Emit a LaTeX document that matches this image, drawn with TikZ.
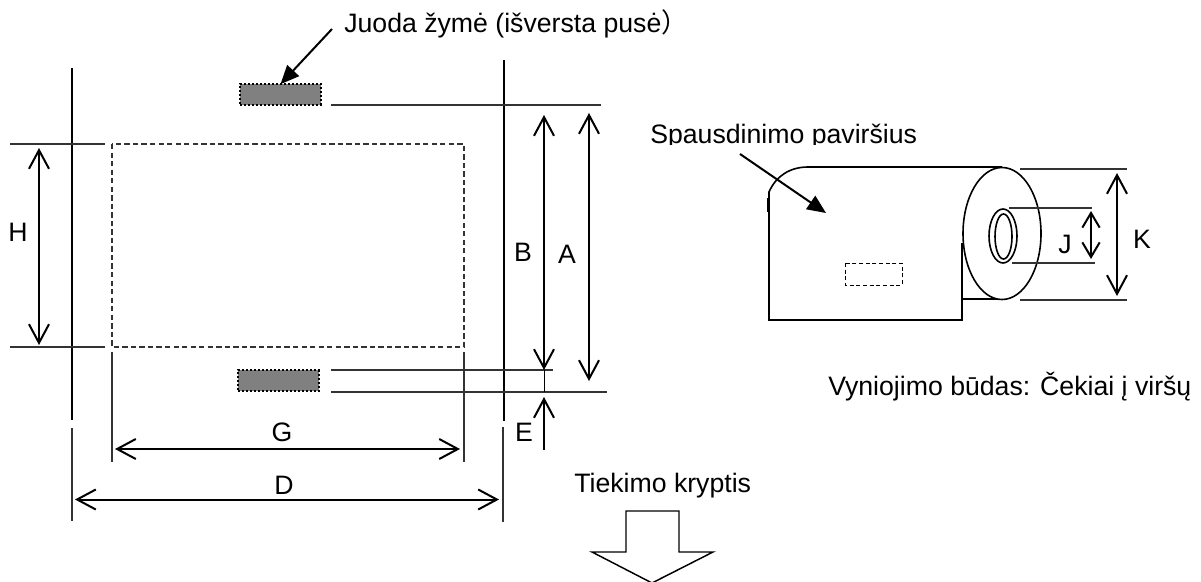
\documentclass[tikz,border=0pt]{standalone}
\usepackage{fontspec}
\setmainfont{Liberation Sans}
\newfontfamily\cjkf{Noto Sans CJK SC}
\usetikzlibrary{arrows.meta,calc,shapes.geometric}
\tikzset{
  x=0.75pt,y=-0.75pt,
  thinln/.style={line width=0.9pt,black!80},
  vln/.style={line width=1.1pt,black},
  dim/.style={line width=1.5pt,{Straight Barb[length=14pt,width=15pt,line width=1.5pt]}-{Straight Barb[length=14pt,width=15pt,line width=1.5pt]}},
  dimone/.style={line width=1.5pt,-{Straight Barb[length=14pt,width=15pt,line width=1.5pt]}},
  smalldim/.style={line width=1.5pt,{Straight Barb[length=11pt,width=13pt,line width=1.5pt]}-{Straight Barb[length=11pt,width=13pt,line width=1.5pt]}},
  leader/.style={line width=1.5pt,-{Triangle[length=14pt,width=12pt]}},
  lbl/.style={inner sep=0pt,font=\fontsize{20pt}{24pt}\selectfont},
  blackmark/.style={draw=black,dash pattern=on 1.5pt off 1.5pt,line width=1.3pt,fill=black!50,minimum width=60.5pt,minimum height=15.5pt,inner sep=0pt,outer sep=0pt},
  dashone/.style={line width=0.9pt,dash pattern=on 4pt off 2.4pt,black!80},
  rolln/.style={line width=1.2pt,black},
  ell/.style={ellipse,draw=black,line width=1.2pt,inner sep=0pt,outer sep=0pt,fill=white}
}
\begin{document}
\begin{tikzpicture}
\useasboundingbox (0,0) rectangle (1201,581);
% left drawing verticals
\coordinate (v1a) at (72,68); \coordinate (v1b) at (72,420);
\coordinate (v1c) at (72,428); \coordinate (v1d) at (72,521);
\coordinate (v2a) at (504,60); \coordinate (v2b) at (504,421);
\coordinate (v2c) at (503,427); \coordinate (v2d) at (503,522);
\draw[vln] (v1a) -- (v1b); \draw[thinln] (v1c) -- (v1d);
\draw[vln] (v2a) -- (v2b); \draw[thinln] (v2c) -- (v2d);
% dashed sheet
\coordinate (sheetA) at (112,144); \coordinate (sheetB) at (464,347);
\draw[dashone] (sheetA) rectangle (sheetB);
% H
\coordinate (h1a) at (10,144); \coordinate (h1b) at (105,144);
\coordinate (h2a) at (10,347); \coordinate (h2b) at (105,347);
\draw[thinln] (h1a) -- (h1b); \draw[thinln] (h2a) -- (h2b);
\coordinate (Ht) at (39,148); \coordinate (Hb) at (39,345);
\draw[dim] (Ht) -- (Hb);
\node[lbl] (H) at (18,232) {H};
% marks
\node[blackmark] (m1) at (280.5,94.5) {};
\node[blackmark] (m2) at (278.5,380.5) {};
\coordinate (ls) at (331,105); \coordinate (le) at (601,105);
\draw[thinln] (ls) -- (le);
\coordinate (l2s) at (331,370); \coordinate (l2e) at (553,370);
\coordinate (l3s) at (331,392); \coordinate (l3e) at (607,392);
\draw[thinln] (l2s) -- (l2e); \draw[thinln] (l3s) -- (l3e);
% B, A, E
\coordinate (Bt) at (544,115); \coordinate (Bb) at (544,370);
\coordinate (At) at (589,113); \coordinate (Ab) at (589,381);
\draw[dim] (Bt) -- (Bb); \draw[dim] (At) -- (Ab);
\node[lbl] (B) at (523,252) {B};
\node[lbl] (A) at (567,254) {A};
\draw[line width=0.6pt] (Bb) -- (l3e -| Bb);
\coordinate (Es) at (544,450); \coordinate (Ee) at (544,397);
\draw[dimone] (Es) -- (Ee);
\node[lbl] (E) at (524,432) {E};
% G, D
\coordinate (g1a) at (112,352); \coordinate (g1b) at (112,462);
\coordinate (g2a) at (464,352); \coordinate (g2b) at (464,462);
\draw[thinln] (g1a) -- (g1b); \draw[thinln] (g2a) -- (g2b);
\coordinate (Gl) at (115,449); \coordinate (Gr) at (460,449);
\draw[dim] (Gl) -- (Gr);
\node[lbl] (G) at (282,432) {G};
\coordinate (Dl) at (75,499.5); \coordinate (Dr) at (499,499.5);
\draw[dim] (Dl) -- (Dr);
\node[lbl] (D) at (284,485) {D};
% top label
\node[lbl,anchor=base west] (t1) at (344,33) {Juoda žymė (išversta pusė{\cjkf ）}};
\coordinate (t1s) at (332,29);
\draw[leader] (t1s) -- (m1.north);
% feed arrow
\node[lbl,anchor=base west] (feed) at (574,492) {Tiekimo kryptis};
\draw[line width=1.1pt] (626,552) -- (626,511) -- (679,511) -- (679,552) -- (713,552) -- (652,583) -- (592,552) -- cycle;
% roll
\begin{scope}
\clip (640,120) rectangle (930,145);
\node[lbl,anchor=base west] (t2) at (650,143) {Spausdinimo paviršius};
\end{scope}
\draw[rolln] (962,243) -- (962,320) -- (769,320) -- (769,192) .. controls (776,176) and (790,167) .. (808,167) -- (1002,167);
\draw[line width=0.7pt] (767,198) -- (767,212);
\draw[rolln] (962,299) -- (998,299);
\node[ell,minimum width=58.5pt,minimum height=99pt] (rollend) at (1002,233.5) {};
\node[ell,minimum width=21pt,minimum height=40.5pt] (core) at (1003,236) {};
\node[ell,minimum width=12.75pt,minimum height=33.75pt] (hole) at (1003.5,236.5) {};
\coordinate (s2e) at (826,213); \coordinate (s2s) at (740,154);
\draw[leader] (s2s) -- (s2e);
\draw[line width=0.6pt,dash pattern=on 3pt off 2pt] (845,263) rectangle (902,285);
% K, J
\coordinate (k1a) at (1020,169); \coordinate (k1b) at (1127,169);
\coordinate (k2a) at (1020,300); \coordinate (k2b) at (1127,300);
\draw[thinln] (k1a) -- (k1b); \draw[thinln] (k2a) -- (k2b);
\coordinate (j1a) at (1009,208); \coordinate (j1b) at (1092,208);
\coordinate (j2a) at (1012,263); \coordinate (j2b) at (1095,263);
\draw[thinln] (j1a) -- (j1b); \draw[thinln] (j2a) -- (j2b);
\coordinate (Kt) at (1117,173); \coordinate (Kb) at (1117,296);
\draw[dim] (Kt) -- (Kb);
\coordinate (Jt) at (1091,211); \coordinate (Jb) at (1091,259);
\draw[smalldim] (Jt) -- (Jb);
\node[lbl] (K) at (1142,239) {K};
\node[lbl] (J) at (1065,244) {J};
\node[lbl,anchor=base west] (wind) at (828,395) {Vyniojimo būdas: Čekiai į viršų};
\end{tikzpicture}
\end{document}
